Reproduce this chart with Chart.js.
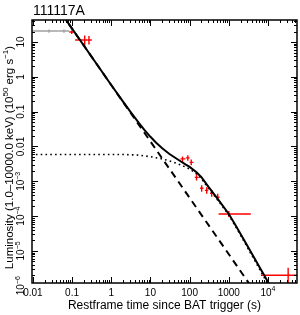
<!DOCTYPE html>
<html>
<head>
<meta charset="utf-8">
<script src="https://cdn.jsdelivr.net/npm/chart.js@4.4.0/dist/chart.umd.min.js"></script>
<style>
  html, body { margin: 0; padding: 0; background: #fff; }
</style>
</head>
<body>
<canvas id="lc" width="300" height="315"></canvas>
<script>
// model curves
const solidT = [0.055, 1, 2, 3, 5, 7, 10, 14, 20, 30, 40, 60, 80, 100, 150, 200, 300, 450, 600, 1000, 1500, 3000, 10000, 20000];
const solidL = [64, 0.586, 0.195, 0.104, 0.0485, 0.0302, 0.019, 0.0128, 0.0089, 0.0062, 0.005, 0.0037, 0.003, 0.0026,
                0.00182, 0.00131, 0.0007, 0.00039, 0.000253, 0.000115, 5.4e-5, 1.39e-5, 1.29e-6, 3.4e-7];
const dashT = [0.055, 4000];
const dashL = [64, 8.5e-7];
const dotT = [0.009, 2, 5, 10, 20, 30, 40, 60, 80, 100, 150, 200, 300, 450, 600, 1000, 1500, 3000, 10000, 20000];
const dotL = [5.9e-3, 5.9e-3, 5.65e-3, 5.1e-3, 4.4e-3, 3.9e-3, 3.5e-3, 2.95e-3, 2.55e-3, 2.25e-3, 1.65e-3, 1.2e-3,
              6.4e-4, 3.6e-4, 2.35e-4, 1.07e-4, 5.0e-5, 1.25e-5, 1.1e-6, 2.8e-7];

// BAT points (grey)
const batT   = [0.026, 0.062];
const batTlo = [0.009, 0.045];
const batThi = [0.045, 0.085];
const batL   = [20.7, 20.7];
const batLlo = [18.6, 18.6];
const batLhi = [23, 23];

// XRT points (red)
const xrtT   = [0.098, 0.21, 0.27, 66, 90, 110, 150, 203, 273, 366, 520, 1000, 32700];
const xrtTlo = [0.085, 0.12, 0.25, 58, 80, 100, 135, 185, 245, 330, 470, 550, 6600];
const xrtThi = [0.12, 0.25, 0.32, 78, 100, 125, 170, 225, 300, 400, 580, 3640, 80000];
const xrtL   = [19.4, 11.5, 11.5, 4.4e-3, 4.7e-3, 3.5e-3, 1.3e-3, 6.3e-4, 5.5e-4, 4.5e-4, 3.5e-4, 1.15e-4, 2.0e-6];
const xrtLlo = [17, 7.8, 8.5, 3.6e-3, 3.9e-3, 2.9e-3, 1.05e-3, 5.0e-4, 4.4e-4, 3.6e-4, 2.8e-4, 0.95e-4, 0.9e-6];
const xrtLhi = [21.5, 15.5, 15, 5.2e-3, 5.6e-3, 4.2e-3, 1.6e-3, 7.7e-4, 6.7e-4, 5.6e-4, 4.4e-4, 1.4e-4, 3.3e-6];

// axis labels
const xTickVals = [0.01, 0.1, 1, 10, 100, 1000, 10000];
const xTickLabels = ['0.01', '0.1', '1', '10', '100', '1000', '10^4'];
const yTickVals = [10, 1, 0.1, 0.01, 1e-3, 1e-4, 1e-5, 1e-6];
const yTickLabels = ['10', '1', '0.1', '0.01', '10^\u22123', '10^\u22124', '10^\u22125', '10^\u22126'];

const titleText = '111117A';
const xTitle = 'Restframe time since BAT trigger (s)';
const yTitle = [['Luminosity (1.0\u201310000.0 keV) (10', false], ['50', true], [' erg s', false], ['\u22121', true], [')', false]];

const FONT = '"Liberation Sans", Arial, Helvetica, sans-serif';

function pts(t, l) {
    return t.map((v, i) => ({ x: v, y: l[i] }));
}

// draws text pieces (some raised) centred on cx, cy
function drawRich(ctx, segs, cx, cy, size) {
    let w = 0;
    segs.forEach(s => {
        ctx.font = (s[1] ? size * 0.7 : size) + 'px ' + FONT;
        w += ctx.measureText(s[0]).width;
    });
    let x = cx - w / 2;
    ctx.textBaseline = 'middle';
    ctx.textAlign = 'left';
    segs.forEach(s => {
        ctx.font = (s[1] ? size * 0.7 : size) + 'px ' + FONT;
        ctx.fillText(s[0], x, s[1] ? cy - size * 0.38 : cy);
        x += ctx.measureText(s[0]).width;
    });
}

function labelSegs(str) {
    let p = str.split('^');
    return p.length > 1 ? [[p[0], false], [p[1], true]] : [[p[0], false]];
}

function drawErrors(ctx, xs, ys, t, tlo, thi, l, llo, lhi, color) {
    ctx.strokeStyle = color;
    ctx.lineWidth = 1.4;
    t.forEach((v, i) => {
        let px = xs.getPixelForValue(v), py = ys.getPixelForValue(l[i]);
        ctx.beginPath();
        ctx.moveTo(xs.getPixelForValue(tlo[i]), py);
        ctx.lineTo(xs.getPixelForValue(thi[i]), py);
        ctx.moveTo(px, ys.getPixelForValue(llo[i]));
        ctx.lineTo(px, ys.getPixelForValue(lhi[i]));
        ctx.stroke();
    });
}

const framePlugin = {
    id: 'frame',
    beforeDatasetsDraw(chart) {
        const { ctx, chartArea: a, scales } = chart;
        ctx.save();
        ctx.beginPath();
        ctx.rect(a.left, a.top, a.right - a.left, a.bottom - a.top);
        ctx.clip();
        drawErrors(ctx, scales.x, scales.y, batT, batTlo, batThi, batL, batLlo, batLhi, '#a0a0a0');
        drawErrors(ctx, scales.x, scales.y, xrtT, xrtTlo, xrtThi, xrtL, xrtLlo, xrtLhi, '#ff0000');
        ctx.restore();
    },
    afterDraw(chart) {
        const { ctx, chartArea: a, scales: { x, y } } = chart;
        ctx.save();
        ctx.strokeStyle = '#000';
        ctx.fillStyle = '#000';

        // inward ticks on all four sides
        ctx.lineWidth = 1;
        ctx.beginPath();
        for (let d = -3; d <= 5; d++) {
            for (let m = 1; m <= 9; m++) {
                let v = m * Math.pow(10, d);
                let len = m === 1 ? 6 : 3;
                if (v >= x.min && v <= x.max) {
                    let px = Math.round(x.getPixelForValue(v)) + 0.5;
                    ctx.moveTo(px, a.bottom); ctx.lineTo(px, a.bottom - len);
                    ctx.moveTo(px, a.top); ctx.lineTo(px, a.top + len);
                }
            }
        }
        for (let d = -7; d <= 2; d++) {
            for (let m = 1; m <= 9; m++) {
                let v = m * Math.pow(10, d);
                let len = m === 1 ? 6 : 3;
                if (v >= y.min && v <= y.max) {
                    let py = Math.round(y.getPixelForValue(v)) + 0.5;
                    ctx.moveTo(a.left, py); ctx.lineTo(a.left + len, py);
                    ctx.moveTo(a.right, py); ctx.lineTo(a.right - len, py);
                }
            }
        }
        ctx.stroke();

        // frame
        ctx.lineWidth = 1.5;
        ctx.strokeRect(a.left, a.top, a.right - a.left, a.bottom - a.top);

        // tick labels
        xTickVals.forEach((v, i) => {
            drawRich(ctx, labelSegs(xTickLabels[i]), x.getPixelForValue(v), 293, 10);
        });
        yTickVals.forEach((v, i) => {
            ctx.save();
            ctx.translate(21.5, y.getPixelForValue(v));
            ctx.rotate(-Math.PI / 2);
            drawRich(ctx, labelSegs(yTickLabels[i]), 0, 0, 10);
            ctx.restore();
        });

        // axis titles
        drawRich(ctx, [[xTitle, false]], (a.left + a.right) / 2, 306, 12);
        ctx.save();
        ctx.translate(10, (a.top + a.bottom) / 2 + 6);
        ctx.rotate(-Math.PI / 2);
        drawRich(ctx, yTitle, 0, 0, 11.5);
        ctx.restore();

        // burst name
        ctx.font = '14px ' + FONT;
        ctx.textAlign = 'left';
        ctx.textBaseline = 'alphabetic';
        ctx.fillText(titleText, 33, 15);
        ctx.restore();
    }
};

new Chart(document.getElementById('lc'), {
    type: 'line',
    data: {
        datasets: [
            { data: pts(dotT, dotL), borderColor: '#000', borderWidth: 1.6, borderDash: [1.6, 3.2], pointRadius: 0, tension: 0, fill: false },
            { data: pts(dashT, dashL), borderColor: '#000', borderWidth: 2, borderDash: [7, 5], pointRadius: 0, tension: 0, fill: false },
            { data: pts(solidT, solidL), borderColor: '#000', borderWidth: 2, pointRadius: 0, tension: 0, fill: false }
        ]
    },
    options: {
        responsive: false,
        animation: false,
        layout: { padding: { left: 32, top: 20, right: 3, bottom: 32 } },
        plugins: { legend: { display: false }, tooltip: { enabled: false } },
        scales: {
            x: { type: 'logarithmic', min: 0.0095, max: 55000, display: false },
            y: { type: 'logarithmic', min: 1.2e-6, max: 43, display: false }
        }
    },
    plugins: [framePlugin]
});
</script>
</body>
</html>
